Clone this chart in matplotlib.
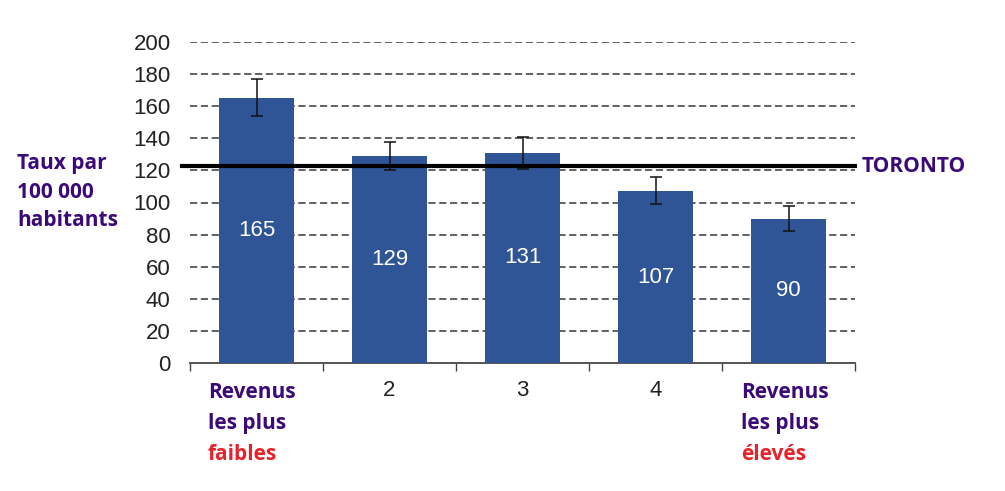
import matplotlib.pyplot as plt
import numpy as np

# ── Data ──────────────────────────────────────────────────────
quintiles  = ["1", "2", "3", "4", "5"]
tick_names = ["", "2", "3", "4", ""]
rates      = [165, 129, 131, 107, 90]
err_low    = [11, 9, 10, 8, 8]
err_high   = [12, 9, 10, 9, 8]
toronto    = 122.5

PURPLE = "#3b0a78"
RED    = "#e3242b"
BLUE   = "#2f5597"

plt.rcParams["font.family"] = ["Liberation Sans", "DejaVu Sans"]

fig = plt.figure(figsize=(10.05, 4.91), dpi=100)
ax = fig.add_axes([190 / 1005, 128 / 491, 665 / 1005, 321 / 491])

x = np.arange(len(quintiles))
ax.bar(x, rates, width=0.57, color=BLUE, zorder=3)
ax.errorbar(x, rates, yerr=[err_low, err_high], fmt="none", ecolor="#111111",
            elinewidth=1.1, capsize=4, capthick=1.1, zorder=4)

for xi, v in zip(x, rates):
    ax.text(xi, v / 2, str(v), ha="center", va="center", color="white",
            fontsize=16, zorder=5)

ax.axhline(toronto, xmin=-0.012, xmax=1.0, color="black", linewidth=3,
           zorder=6, clip_on=False)

ax.set_xlim(-0.5, 4.5)
ax.set_ylim(0, 200)
ax.set_yticks(range(0, 201, 20))
ax.yaxis.grid(True, linestyle=(0, (4, 2)), color="#555555", linewidth=1.3, zorder=0)
ax.set_axisbelow(True)
ax.tick_params(axis="y", length=0, pad=14, labelsize=16, labelcolor="#222222")

ax.set_xticks(x)
ax.set_xticklabels(tick_names)
ax.tick_params(axis="x", length=0, pad=12, labelsize=16, labelcolor="#222222")
ax.set_xticks(np.arange(-0.5, 4.6, 1), minor=True)
ax.tick_params(axis="x", which="minor", length=6, color="#444444", width=1)

for s in ["top", "right", "left"]:
    ax.spines[s].set_visible(False)
ax.spines["bottom"].set_color("#555555")
ax.spines["bottom"].set_linewidth(1.4)
ax.spines["bottom"].set_zorder(2)

# ── Annotations ───────────────────────────────────────────────
bold = dict(fontsize=15, fontweight="bold", family=["Open Sans", "DejaVu Sans"])
for i, line in enumerate(["Taux par", "100 000", "habitants"]):
    fig.text(17 / 1005, 1 - (163 + 29 * i) / 491, line, color=PURPLE,
             ha="left", va="center", **bold)

fig.text(862 / 1005, 1 - 167 / 491, "TORONTO", color=PURPLE,
         ha="left", va="center", **bold)

for xl, last in [(208, "faibles"), (741, "élevés")]:
    for i, (line, col) in enumerate([("Revenus", PURPLE), ("les plus", PURPLE),
                                     (last, RED)]):
        fig.text(xl / 1005, 1 - (392 + 31 * i) / 491, line, color=col,
                 ha="left", va="center", **bold)

fig.savefig("out.png", dpi=100)
